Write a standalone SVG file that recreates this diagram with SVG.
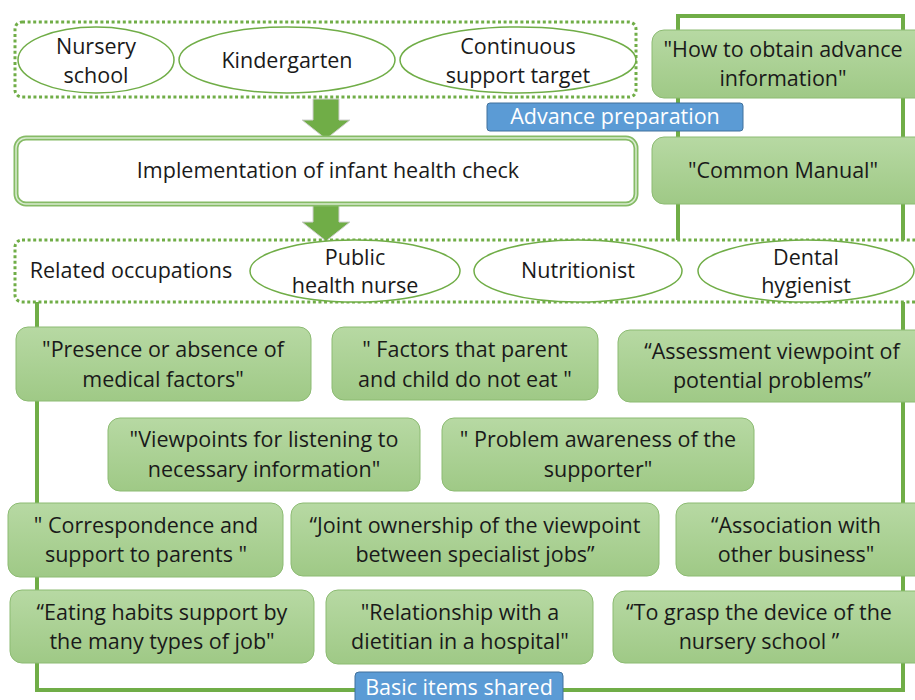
<svg xmlns="http://www.w3.org/2000/svg" width="915" height="700" viewBox="0 0 915 700">
  <defs>
    <linearGradient id="gbox" x1="0" y1="0" x2="0" y2="1">
      <stop offset="0" stop-color="#b7d9a3"/>
      <stop offset="1" stop-color="#9fc986"/>
    </linearGradient>
    <style>
      text { font-family: "Open Sans", "Liberation Sans", Arial, sans-serif; font-size: 21.5px; fill: #1a1a1a; text-anchor: middle; }
      .frame { fill: none; stroke: #70ad47; stroke-width: 4; }
      .dotted { fill: #ffffff; stroke: #70ad47; stroke-width: 3; stroke-dasharray: 3 2.6; }
      .oval { fill: #ffffff; stroke: #70ad47; stroke-width: 1.5; }
      .gbox { fill: url(#gbox); stroke: #8cbb72; stroke-width: 1; }
      .blue { fill: #5b9bd5; stroke: #41719c; stroke-width: 1; }
      text.wt { fill: #ffffff; }
      .arrow { fill: #70ad47; stroke: #d0d0d0; stroke-width: 1; }
    </style>
  </defs>

  <!-- background frames -->
  <g id="frames">
    <rect class="frame" x="678" y="16" width="225" height="230"/>
    <rect class="frame" x="37" y="290" width="866" height="400"/>
  </g>

  <!-- flow arrows -->
  <g id="connectors">
    <polygon class="arrow" points="313,99 339,99 339,120 350,120 326,139 302,120 313,120"/>
    <polygon class="arrow" points="313,205 339,205 339,222 350,222 326,241 302,222 313,222"/>
  </g>

  <!-- top group: facilities -->
  <g id="facilities">
    <rect class="dotted" x="15" y="22" width="621" height="75" rx="7"/>
    <g id="nursery">
      <ellipse class="oval" cx="96" cy="60" rx="78" ry="33"/>
      <text x="96" y="54">Nursery</text>
      <text x="96" y="83">school</text>
    </g>
    <g id="kindergarten">
      <ellipse class="oval" cx="287" cy="60" rx="108" ry="33"/>
      <text x="287" y="68">Kindergarten</text>
    </g>
    <g id="continuous">
      <ellipse class="oval" cx="518" cy="60" rx="118" ry="33"/>
      <text x="518" y="54">Continuous</text>
      <text x="518" y="83">support target</text>
    </g>
  </g>

  <g id="advance-preparation">
    <rect class="blue" x="487" y="103" width="256" height="28" rx="3"/>
    <text class="wt" x="615" y="124">Advance preparation</text>
  </g>

  <g id="obtain-info">
    <rect class="gbox" x="652" y="30" width="275" height="68" rx="12"/>
    <text x="783" y="57">"How to obtain advance</text>
    <text x="783" y="86">information"</text>
  </g>

  <g id="common-manual">
    <rect class="gbox" x="652" y="137" width="275" height="67" rx="12"/>
    <text x="783" y="178">"Common Manual"</text>
  </g>

  <g id="health-check">
    <rect x="16" y="138" width="620" height="66" rx="10" fill="#ffffff" stroke="#86bb66" stroke-width="5"/>
    <rect x="16" y="138" width="620" height="66" rx="10" fill="none" stroke="#d9ecd0" stroke-width="1.5"/>
    <text x="328" y="178">Implementation of infant health check</text>
  </g>

  <!-- related occupations -->
  <g id="occupations">
    <rect class="dotted" x="15" y="240" width="910" height="62" rx="7"/>
    <text x="131" y="278">Related occupations</text>
    <g id="nurse">
      <ellipse class="oval" cx="355" cy="271" rx="105" ry="31"/>
      <text x="355" y="265">Public</text>
      <text x="355" y="293">health nurse</text>
    </g>
    <g id="nutritionist">
      <ellipse class="oval" cx="578" cy="271" rx="104" ry="31"/>
      <text x="578" y="278">Nutritionist</text>
    </g>
    <g id="hygienist">
      <ellipse class="oval" cx="806" cy="271" rx="108" ry="31"/>
      <text x="806" y="265">Dental</text>
      <text x="806" y="293">hygienist</text>
    </g>
  </g>

  <!-- shared items -->
  <g id="medical-factors">
    <rect class="gbox" x="16" y="327" width="295" height="74" rx="12"/>
    <text x="163" y="357">"Presence or absence of</text>
    <text x="163" y="387">medical factors"</text>
  </g>
  <g id="do-not-eat">
    <rect class="gbox" x="332" y="327" width="266" height="73" rx="12"/>
    <text x="465" y="357">" Factors that parent</text>
    <text x="465" y="387">and child do not eat "</text>
  </g>
  <g id="assessment">
    <rect class="gbox" x="618" y="330" width="309" height="72" rx="12"/>
    <text x="772" y="359">“Assessment viewpoint of</text>
    <text x="772" y="388">potential problems”</text>
  </g>

  <g id="listening">
    <rect class="gbox" x="108" y="418" width="312" height="73" rx="12"/>
    <text x="264" y="447">"Viewpoints for listening to</text>
    <text x="264" y="477">necessary information"</text>
  </g>
  <g id="problem-awareness">
    <rect class="gbox" x="442" y="418" width="312" height="73" rx="12"/>
    <text x="598" y="447">" Problem awareness of the</text>
    <text x="598" y="477">supporter"</text>
  </g>

  <g id="parents">
    <rect class="gbox" x="8" y="503" width="275" height="74" rx="12"/>
    <text x="146" y="533">" Correspondence and</text>
    <text x="146" y="562">support to parents "</text>
  </g>
  <g id="joint-ownership">
    <rect class="gbox" x="291" y="503" width="368" height="73" rx="12"/>
    <text x="475" y="533">“Joint ownership of the viewpoint</text>
    <text x="475" y="562">between specialist jobs”</text>
  </g>
  <g id="other-business">
    <rect class="gbox" x="676" y="503" width="251" height="73" rx="12"/>
    <text x="796" y="533">“Association with</text>
    <text x="796" y="562">other business"</text>
  </g>

  <g id="eating-habits">
    <rect class="gbox" x="10" y="590" width="304" height="73" rx="12"/>
    <text x="162" y="620">“Eating habits support by</text>
    <text x="162" y="649">the many types of job"</text>
  </g>
  <g id="dietitian">
    <rect class="gbox" x="326" y="590" width="267" height="74" rx="12"/>
    <text x="460" y="620">"Relationship with a</text>
    <text x="460" y="649">dietitian in a hospital"</text>
  </g>
  <g id="nursery-device">
    <rect class="gbox" x="613" y="591" width="314" height="72" rx="12"/>
    <text x="759" y="620">“To grasp the device of the</text>
    <text x="759" y="649">nursery school ”</text>
  </g>

  <g id="basic-items">
    <rect class="blue" x="355" y="672" width="208" height="36" rx="4"/>
    <text class="wt" x="459" y="695">Basic items shared</text>
  </g>
</svg>
